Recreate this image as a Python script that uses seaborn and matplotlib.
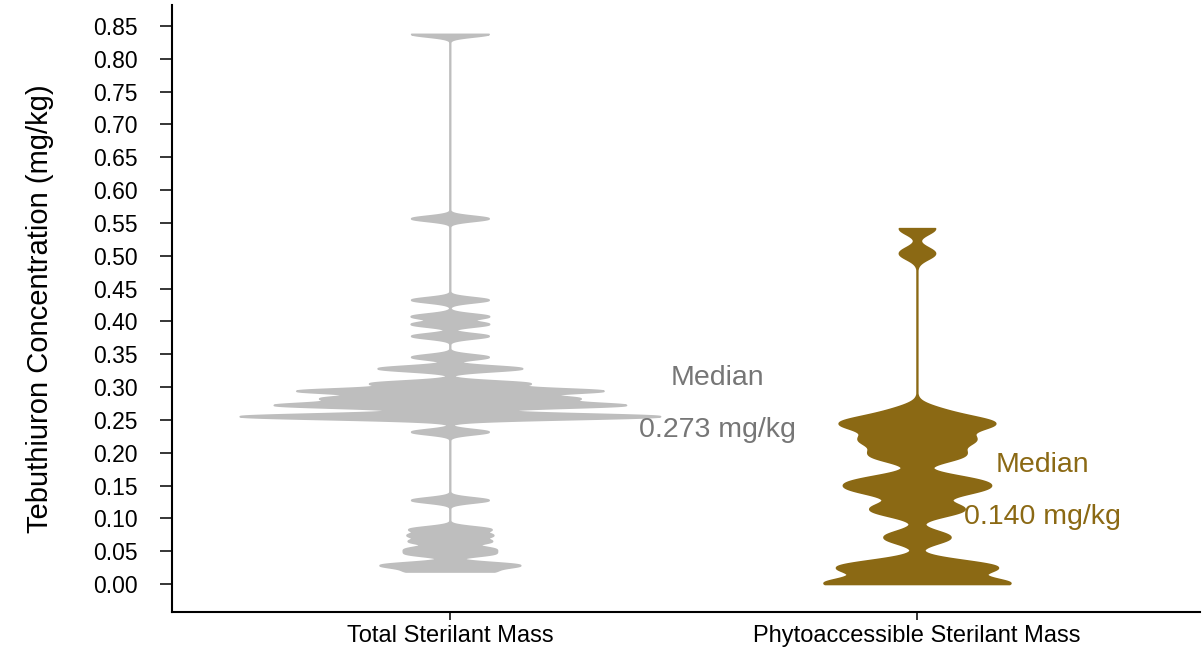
import numpy as np
import pandas as pd
import matplotlib
matplotlib.use("Agg")
import matplotlib.pyplot as plt
import seaborn as sns

# Categories and measured tebuthiuron concentrations (mg/kg)
groups = ["Total Sterilant Mass", "Phytoaccessible Sterilant Mass"]

total_mass = [0.019, 0.027, 0.031, 0.046, 0.054, 0.065, 0.0745, 0.084,
              0.128, 0.232,
              0.2535, 0.2545, 0.2550, 0.2555, 0.2565, 0.2595,
              0.2705, 0.2715, 0.2725, 0.2730, 0.2765,
              0.2825, 0.2835, 0.2845,
              0.2930, 0.2940, 0.2950, 0.2960,
              0.3055, 0.3065,
              0.327, 0.330,
              0.346, 0.378, 0.396, 0.408, 0.433, 0.557, 0.838]

phyto_mass = [0.000, 0.000, 0.000, 0.000, 0.003,
              0.019, 0.023, 0.026, 0.029, 0.033,
              0.068, 0.075,
              0.108, 0.114, 0.120,
              0.138, 0.143, 0.148, 0.153, 0.158, 0.163,
              0.190, 0.197, 0.203,
              0.216, 0.220, 0.224,
              0.237, 0.241, 0.245, 0.249, 0.253,
              0.265, 0.504, 0.542]

# Reported group medians (mg/kg)
median_values = [0.273, 0.140]

y_ticks = [round(0.05 * i, 2) for i in range(18)]
y_tick_labels = [f"{v:.2f}" for v in y_ticks]

colors = ["#bebebe", "#8b6914"]
text_colors = ["#767676", "#8b6914"]
kernel_sd = [0.004, 0.009]      # KDE kernel width in mg/kg
violin_width = [0.90, 0.40]

plt.rcParams["font.family"] = ["Liberation Sans", "DejaVu Sans"]

df = pd.DataFrame({
    "group": [groups[0]] * len(total_mass) + [groups[1]] * len(phyto_mass),
    "value": total_mass + phyto_mass,
})

fig, ax = plt.subplots(figsize=(12.04, 6.48), dpi=100)
fig.subplots_adjust(left=172 / 1204, right=1200 / 1204,
                    bottom=1 - 612 / 648, top=1 - 5 / 648)

for grp, col, sd, w in zip(groups, colors, kernel_sd, violin_width):
    sub = df[df["group"] == grp]
    sns.violinplot(data=sub, x="group", y="value", order=groups, ax=ax,
                   color=col, saturation=1, inner=None, cut=0,
                   gridsize=3000, density_norm="width", width=w,
                   bw_method=sd / sub["value"].std(ddof=1),
                   linewidth=1.2, linecolor=col)

# Median annotations
label_pos = [(0.572, 0.314, 0.2346), (1.268, 0.181, 0.102)]
for med, (lx, y1, y2), tc in zip(median_values, label_pos, text_colors):
    ax.text(lx, y1, "Median", ha="center", va="center", fontsize=20.5, color=tc)
    ax.text(lx, y2, f"{med:.3f} mg/kg", ha="center", va="center",
            fontsize=20.5, color=tc)

ax.set_xlim(-0.595, 1.606)
ax.set_ylim(-0.0427, 0.882)
ax.set_yticks(y_ticks)
ax.set_yticklabels(y_tick_labels)
ax.set_xticks([0, 1])
ax.set_xticklabels(groups)

ax.set_xlabel("")
ax.set_ylabel("Tebuthiuron Concentration (mg/kg)", fontsize=21, labelpad=28)

for side in ["top", "right"]:
    ax.spines[side].set_visible(False)
for side in ["left", "bottom"]:
    ax.spines[side].set_linewidth(1.5)
    ax.spines[side].set_color("black")

ax.tick_params(axis="y", length=8.5, width=1.1, pad=16, labelsize=16.5)
ax.tick_params(axis="x", length=5.5, width=1.1, pad=4, labelsize=17)
ax.set_facecolor("white")
fig.patch.set_facecolor("white")

fig.savefig("out.png", dpi=100)
